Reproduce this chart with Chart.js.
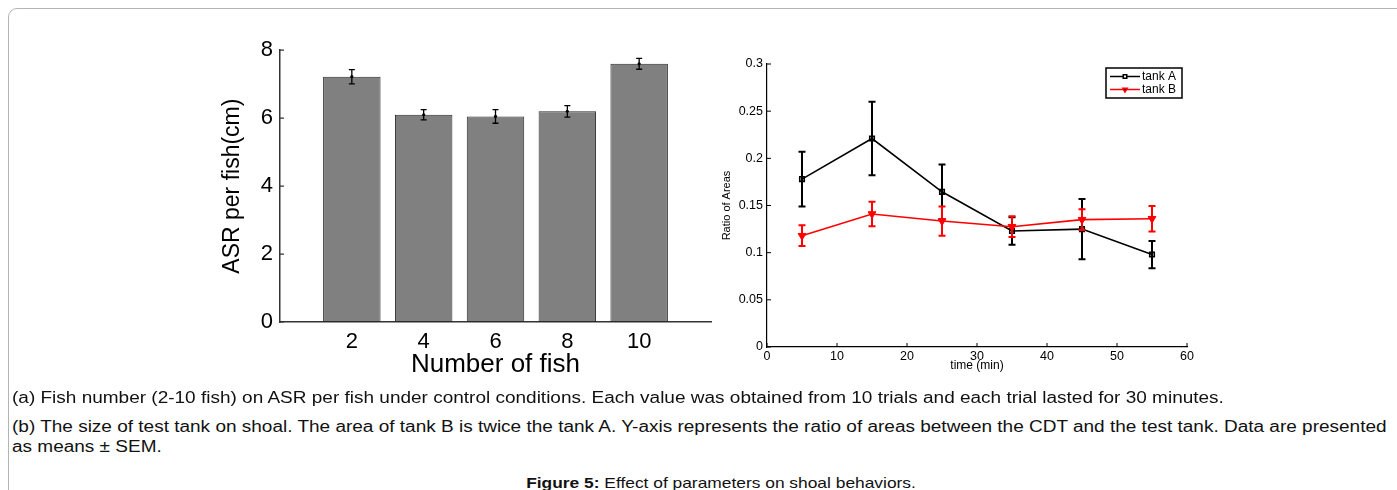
<!DOCTYPE html>
<html>
<head>
<meta charset="utf-8">
<title>Figure 5: Effect of parameters on shoal behaviors</title>
<script src="https://cdn.jsdelivr.net/npm/chart.js@4.4.1/dist/chart.umd.min.js"></script>
<style>
  html, body { margin: 0; padding: 0; background: #fff; }
  body { width: 1397px; height: 490px; overflow: hidden; position: relative;
         font-family: 'Liberation Sans', Arial, sans-serif; color: #111; }
  .frame { position: absolute; left: 8px; top: 8px; width: 1420px; height: 520px;
           border: 1.5px solid #b4b4b4; border-radius: 9px; }
  #chartAsr   { position: absolute; left: 200px; top: 30px; }
  #chartRatio { position: absolute; left: 700px; top: 50px; }
  .cap { position: absolute; left: 12px; font-size: 16px; white-space: nowrap;
         transform: scaleX(1.187); transform-origin: 0 0; }
  .fig { position: absolute; left: 721px; font-size: 15px; white-space: nowrap;
         transform: translateX(-50%) scaleX(1.158); }
</style>
</head>
<body>
<div class="frame"></div>
<canvas id="chartAsr" width="520" height="360"></canvas>
<canvas id="chartRatio" width="510" height="330"></canvas>

<div class="cap" style="top:389px">(a) Fish number (2-10 fish) on ASR per fish under control conditions. Each value was obtained from 10 trials and each trial lasted for 30 minutes.</div>
<div class="cap" style="top:418px">(b) The size of test tank on shoal. The area of tank B is twice the tank A. Y-axis represents the ratio of areas between the CDT and the test tank. Data are presented</div>
<div class="cap" style="top:438px">as means ± SEM.</div>
<div class="fig" style="top:474px"><b>Figure 5:</b> Effect of parameters on shoal behaviors.</div>

<script>
'use strict';

/* ── DATA ── */
// (a) ASR per fish vs number of fish
const fishCounts = [2, 4, 6, 8, 10];
const asrMean    = [7.22, 6.10, 6.05, 6.20, 7.60];
const asrSem     = [0.21, 0.15, 0.20, 0.17, 0.16];
const asrTicks   = [0, 2, 4, 6, 8];

// (b) ratio of areas vs time
const timeMin    = [5, 15, 25, 35, 45, 55];
const tankAMean  = [0.178, 0.221, 0.1645, 0.123, 0.125, 0.098];
const tankASem   = [0.029, 0.039, 0.029, 0.0145, 0.032, 0.0145];
const tankBMean  = [0.118, 0.141, 0.1335, 0.1275, 0.135, 0.136];
const tankBSem   = [0.011, 0.013, 0.0155, 0.011, 0.011, 0.0135];
const timeTicks  = [0, 10, 20, 30, 40, 50, 60];
const ratioTicks = [0, 0.05, 0.1, 0.15, 0.2, 0.25, 0.3];

const FONT = "'Liberation Sans', Arial, sans-serif";
Chart.defaults.font.family = FONT;
Chart.defaults.color = '#000';

/* ── Plugins ── */
// error bars drawn right after each dataset, using the y scale
const errorBars = {
  id: 'errorBars',
  afterDatasetDraw(chart, args) {
    const ds = chart.data.datasets[args.index];
    if (!ds.errors) return;
    const ctx = chart.ctx, ys = chart.scales.y;
    const c = ds.capWidth / 2;
    ctx.save();
    ctx.strokeStyle = ds.errorColor;
    ctx.fillStyle = ds.errorColor;
    ctx.lineWidth = ds.errorWidth;
    args.meta.data.forEach((el, i) => {
      const v = ds.data[i].y;
      const top = ys.getPixelForValue(v + ds.errors[i]);
      const bot = ys.getPixelForValue(v - ds.errors[i]);
      const x = el.x;
      ctx.beginPath();
      ctx.moveTo(x, top); ctx.lineTo(x, bot);
      ctx.moveTo(x - c, top); ctx.lineTo(x + c, top);
      ctx.moveTo(x - c, bot); ctx.lineTo(x + c, bot);
      ctx.stroke();
      if (ds.errorDot) {
        ctx.beginPath();
        ctx.arc(x, ys.getPixelForValue(v), ds.errorDot, 0, Math.PI * 2);
        ctx.fill();
      }
    });
    ctx.restore();
  },
};

// MATLAB style inward tick marks
const innerTicks = {
  id: 'innerTicks',
  afterDraw(chart, args, opts) {
    const { ctx, chartArea: a, scales } = chart;
    ctx.save();
    ctx.strokeStyle = opts.color;
    ctx.lineWidth = opts.width;
    ctx.beginPath();
    if (opts.x) {
      scales.x.ticks.forEach(t => {
        const px = scales.x.getPixelForValue(t.value);
        ctx.moveTo(px, a.bottom); ctx.lineTo(px, a.bottom - opts.len);
      });
    }
    scales.y.ticks.forEach(t => {
      const py = scales.y.getPixelForValue(t.value);
      ctx.moveTo(a.left, py); ctx.lineTo(a.left + opts.len, py);
    });
    ctx.stroke();
    ctx.restore();
  },
};

// boxed legend inside the plot, top right
const boxLegend = {
  id: 'boxLegend',
  afterDraw(chart, args, opts) {
    const ctx = chart.ctx;
    const { left, top, width, rowH } = opts;
    const rows = chart.data.datasets.slice().sort((p, q) => p.legendRank - q.legendRank);
    ctx.save();
    ctx.fillStyle = '#fff';
    ctx.fillRect(left, top, width, rowH * rows.length + 4);
    ctx.strokeStyle = '#000';
    ctx.lineWidth = 1.5;
    ctx.strokeRect(left, top, width, rowH * rows.length + 4);
    ctx.font = `12px ${FONT}`;
    ctx.textBaseline = 'middle';
    rows.forEach((ds, i) => {
      const y = top + 2 + rowH * (i + 0.5);
      ctx.strokeStyle = ds.borderColor;
      ctx.lineWidth = 1.5;
      ctx.beginPath();
      ctx.moveTo(left + 4, y); ctx.lineTo(left + 34, y);
      ctx.stroke();
      Chart.helpers.drawPoint(ctx, {
        pointStyle: ds.pointStyle, rotation: ds.pointRotation || 0,
        radius: 2.5, borderWidth: 1.2,
      }, left + 19, y);
      ctx.fillStyle = '#000';
      ctx.fillText(ds.label, left + 36, y + 0.5);
    });
    ctx.restore();
  },
};

/* ── (a) bar chart ── */
new Chart(document.getElementById('chartAsr'), {
  type: 'bar',
  data: {
    datasets: [{
      label: 'ASR per fish',
      data: fishCounts.map((n, i) => ({ x: n, y: asrMean[i] })),
      backgroundColor: '#808080',
      borderColor: '#2a2a2a',
      borderWidth: 1,
      borderSkipped: false,
      categoryPercentage: 1,
      barPercentage: 0.8,
      errors: asrSem,
      errorColor: '#000',
      errorWidth: 1.3,
      capWidth: 6,
      errorDot: 1.6,
    }],
  },
  options: {
    responsive: false,
    animation: false,
    layout: { autoPadding: false, padding: { top: 19, right: 9 } },
    plugins: {
      legend: { display: false },
      tooltip: { enabled: false },
      innerTicks: { color: '#333', width: 1.2, len: 4, x: false },
    },
    scales: {
      x: {
        type: 'linear', min: 0, max: 12, offset: false,
        afterBuildTicks: s => { s.ticks = fishCounts.map(v => ({ value: v })); },
        afterFit: s => { s.height = 68; },
        grid: { display: false, drawTicks: false },
        border: { display: true, color: '#333', width: 1.5 },
        ticks: { font: { size: 22 }, padding: 7, maxRotation: 0 },
        title: { display: true, text: 'Number of fish', font: { size: 26 }, padding: { top: 0, bottom: 10 } },
      },
      y: {
        min: 0, max: 8,
        afterBuildTicks: s => { s.ticks = asrTicks.map(v => ({ value: v })); },
        afterFit: s => { s.width = 80; },
        grid: { display: false, drawTicks: false },
        border: { display: true, color: '#333', width: 1.5 },
        ticks: { font: { size: 22 }, padding: 7 },
        title: { display: true, text: 'ASR per fish(cm)', font: { size: 23 }, padding: { top: 19, bottom: 0 } },
      },
    },
  },
  plugins: [errorBars, innerTicks],
});

/* ── (b) line chart ── */
new Chart(document.getElementById('chartRatio'), {
  type: 'line',
  data: {
    datasets: [
      {
        label: 'tank B',
        legendRank: 1,
        data: timeMin.map((t, i) => ({ x: t, y: tankBMean[i] })),
        borderColor: '#ff0000',
        backgroundColor: '#ff0000',
        borderWidth: 1.6,
        pointStyle: 'triangle',
        pointRotation: 180,
        pointRadius: 4.5,
        pointBorderWidth: 1,
        tension: 0,
        errors: tankBSem,
        errorColor: '#ff0000',
        errorWidth: 2,
        capWidth: 7,
      },
      {
        label: 'tank A',
        legendRank: 0,
        data: timeMin.map((t, i) => ({ x: t, y: tankAMean[i] })),
        borderColor: '#000',
        backgroundColor: 'rgba(0,0,0,0)',
        borderWidth: 1.6,
        pointStyle: 'rect',
        pointRadius: 3.2,
        pointBorderWidth: 1.6,
        tension: 0,
        errors: tankASem,
        errorColor: '#000',
        errorWidth: 2,
        capWidth: 7,
      },
    ],
  },
  options: {
    responsive: false,
    animation: false,
    layout: { autoPadding: false, padding: { top: 14, right: 23 } },
    plugins: {
      legend: { display: false },
      tooltip: { enabled: false },
      innerTicks: { color: '#000', width: 1, len: 4, x: true },
      boxLegend: { left: 406, top: 18, width: 76, rowH: 13 },
    },
    scales: {
      x: {
        type: 'linear', min: 0, max: 60,
        afterBuildTicks: s => { s.ticks = timeTicks.map(v => ({ value: v })); },
        afterFit: s => { s.height = 33; },
        grid: { display: false, drawTicks: false },
        border: { display: true, color: '#000', width: 1.2 },
        ticks: { font: { size: 12.5 }, padding: 2, maxRotation: 0 },
        title: { display: true, text: 'time (min)', font: { size: 12 }, padding: { top: 0, bottom: 7 } },
      },
      y: {
        min: 0, max: 0.3,
        afterBuildTicks: s => { s.ticks = ratioTicks.map(v => ({ value: v })); },
        afterFit: s => { s.width = 67; },
        grid: { display: false, drawTicks: false },
        border: { display: true, color: '#000', width: 1.2 },
        ticks: { font: { size: 12.5 }, padding: 4, callback: v => String(+v.toFixed(2)) },
        title: { display: true, text: 'Ratio of Areas', font: { size: 11 }, padding: { top: 20, bottom: 0 } },
      },
    },
  },
  plugins: [errorBars, innerTicks, boxLegend],
});
</script>
</body>
</html>
